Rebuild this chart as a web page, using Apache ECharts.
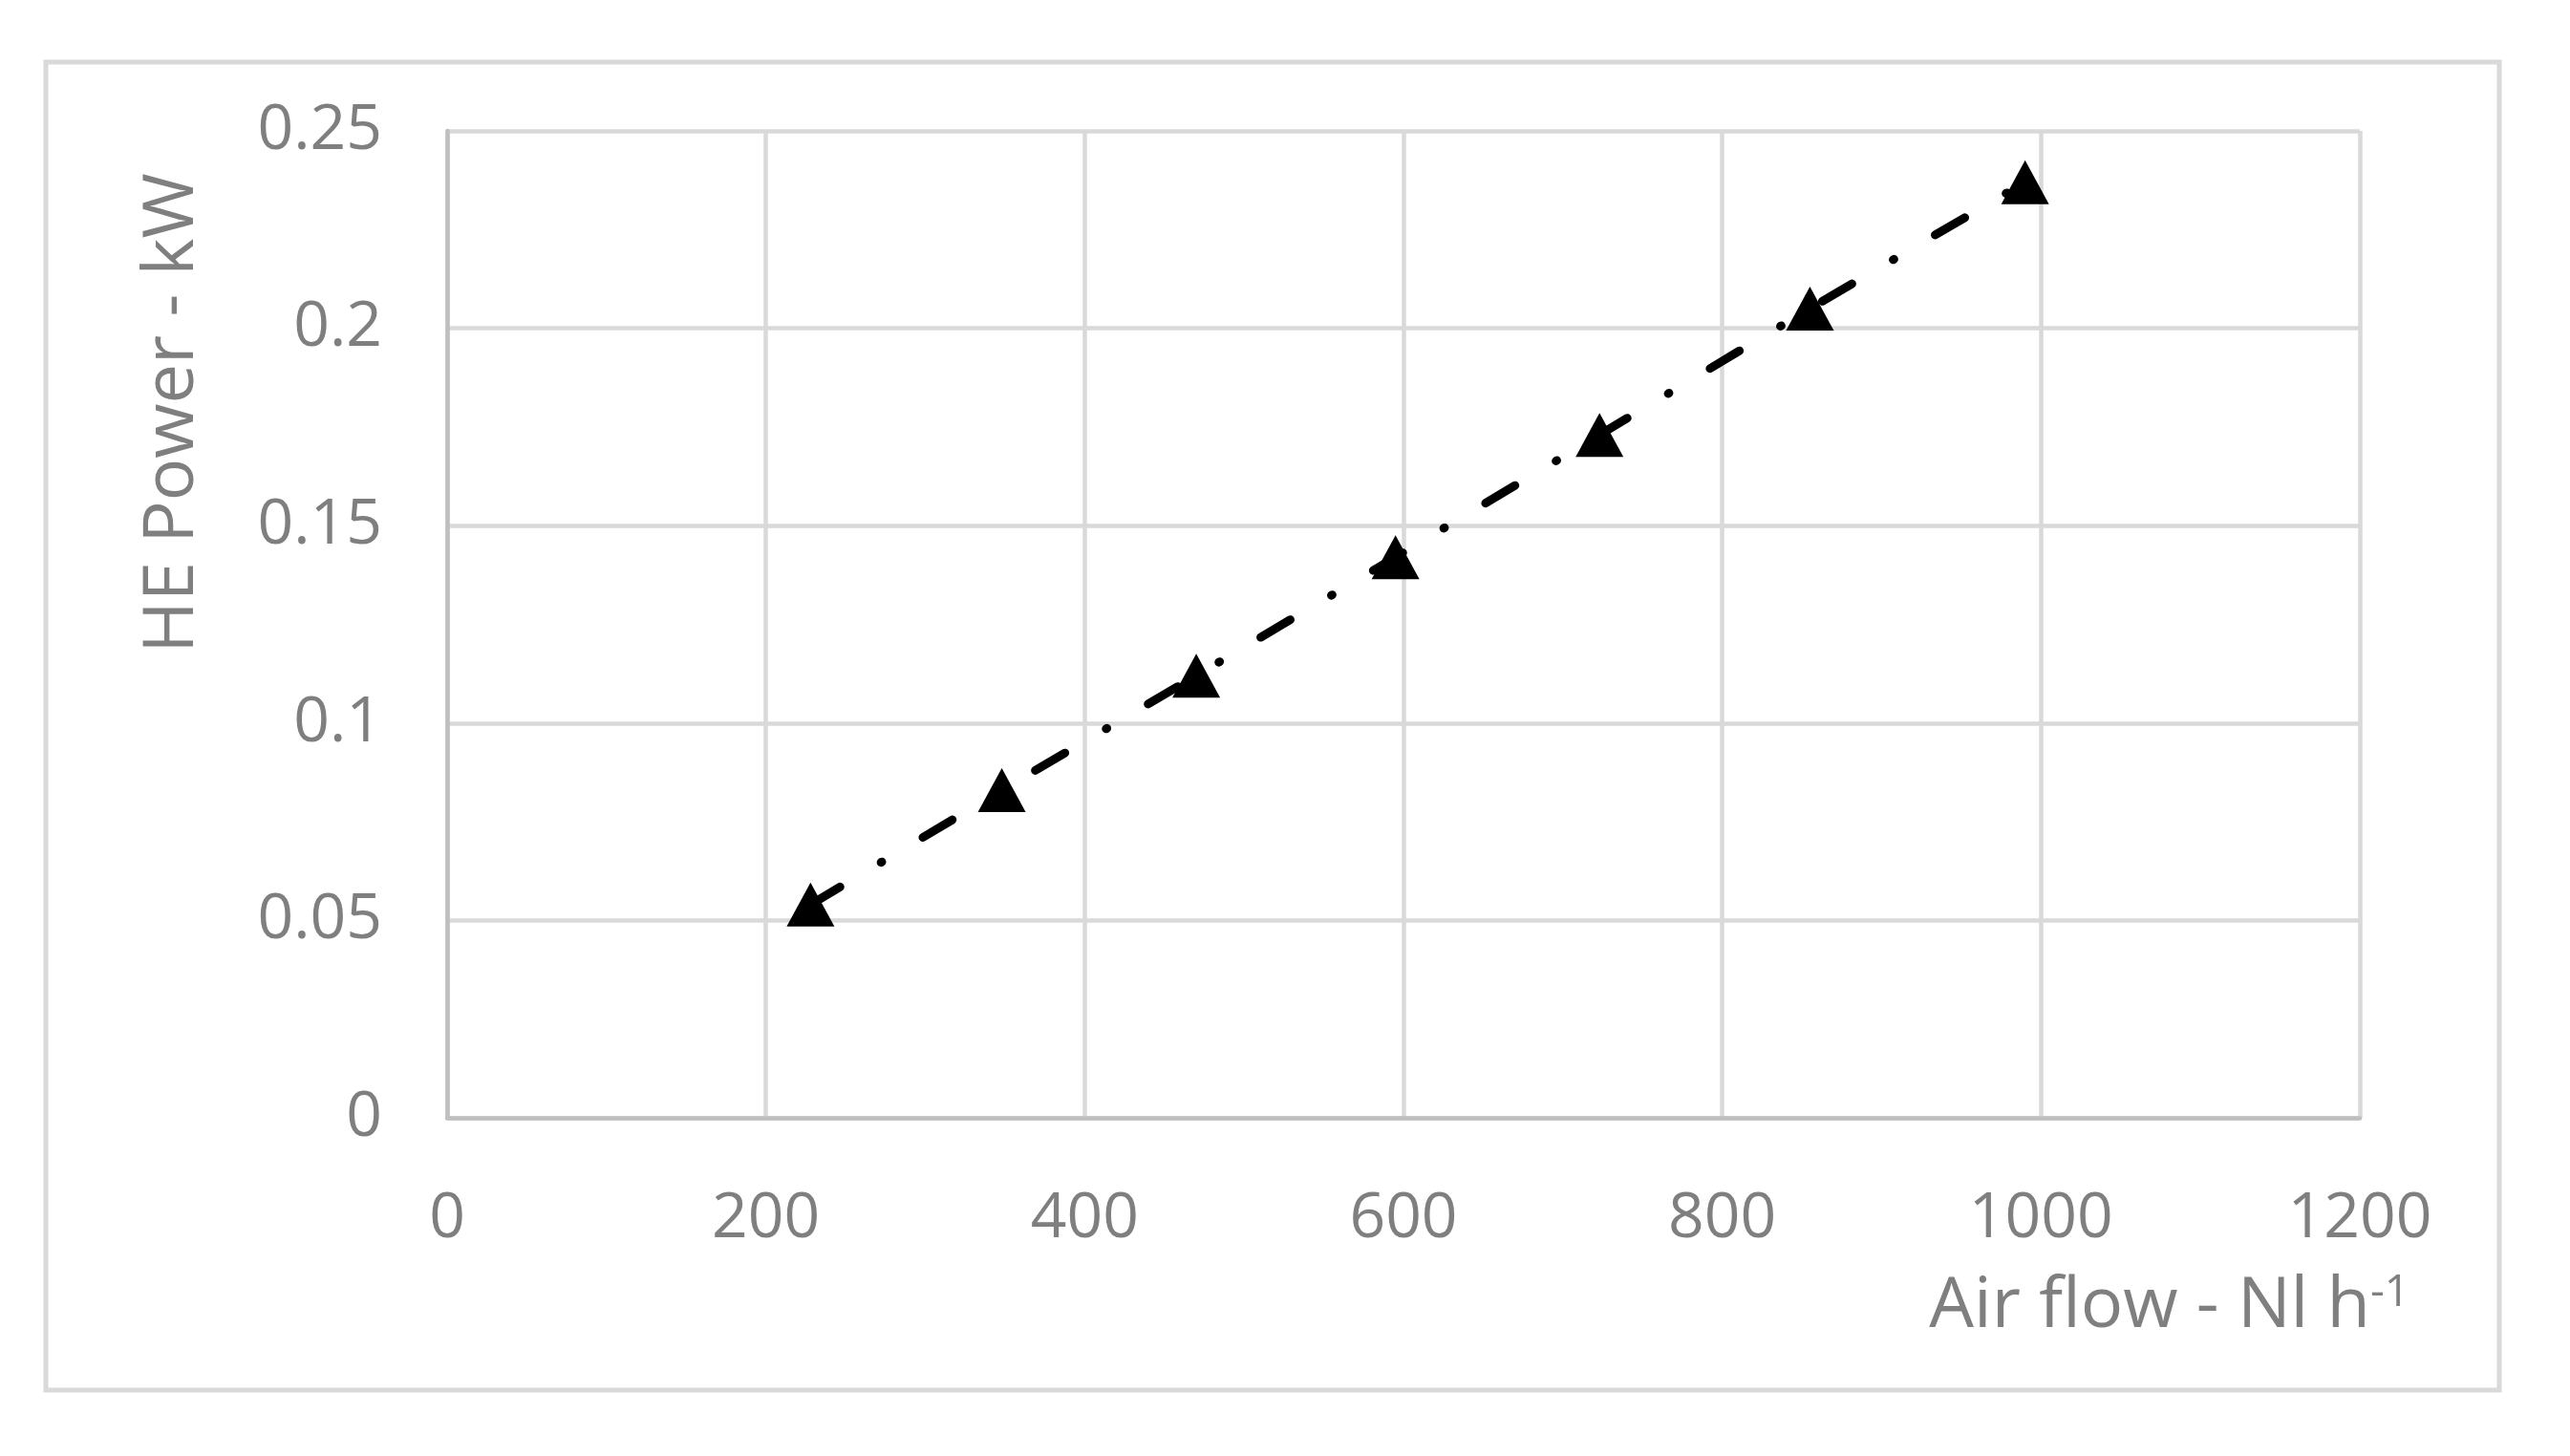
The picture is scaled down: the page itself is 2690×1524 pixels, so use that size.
<!DOCTYPE html>
<html>
<head>
<meta charset="utf-8">
<script src="https://cdn.jsdelivr.net/npm/echarts@6/dist/echarts.min.js"></script>
<style>
html,body{margin:0;padding:0;background:#fff;}
#c{width:2690px;height:1524px;}
</style>
</head>
<body>
<div id="c"></div>
<script>
var airFlow = [228, 348, 470, 595, 723, 855, 990];
var hePower = [0.054, 0.083, 0.112, 0.142, 0.173, 0.205, 0.237];
var xTicks = [0, 200, 400, 600, 800, 1000, 1200];
var yTicks = [0, 0.05, 0.1, 0.15, 0.2, 0.25];
var xTitle = 'Air flow - Nl h';
var xTitleSup = '-1';
var yTitle = 'HE Power - kW';

var points = airFlow.map(function (x, i) { return [x, hePower[i]]; });
var fontFam = '"Open Sans", "Noto Sans", sans-serif';
var labelColor = '#7f7f7f';

var chart = echarts.init(document.getElementById('c'), null, {renderer: 'canvas'});
chart.setOption({
  animation: false,
  backgroundColor: '#ffffff',
  graphic: [{
    type: 'rect',
    shape: {x: 48, y: 65, width: 2568, height: 1390},
    style: {fill: 'none', stroke: '#d9d9d9', lineWidth: 5},
    silent: true,
    z: -10
  }],
  grid: {left: 468, right: 220, top: 137, bottom: 354, containLabel: false},
  xAxis: {
    type: 'value',
    min: xTicks[0],
    max: xTicks[xTicks.length - 1],
    interval: xTicks[1] - xTicks[0],
    name: '{a|' + xTitle + '}{s|' + xTitleSup + '}',
    nameLocation: 'end',
    nameGap: 52,
    nameTextStyle: {
      align: 'right',
      verticalAlign: 'top',
      padding: [161, 0, 0, 0],
      rich: {
        a: {fontSize: 74, color: labelColor, fontFamily: fontFam, verticalAlign: 'bottom'},
        s: {fontSize: 46, color: labelColor, fontFamily: fontFam, verticalAlign: 'top'}
      }
    },
    axisLine: {show: true, onZero: false, lineStyle: {color: '#bfbfbf', width: 4.5}},
    axisTick: {show: false},
    splitLine: {show: true, lineStyle: {color: '#d9d9d9', width: 4.5}},
    axisLabel: {
      fontSize: 66, color: labelColor, fontFamily: fontFam, margin: 73,
      formatter: function (v) { return String(v); }
    }
  },
  yAxis: {
    type: 'value',
    min: yTicks[0],
    max: yTicks[yTicks.length - 1],
    interval: 0.05,
    name: yTitle,
    nameLocation: 'middle',
    nameGap: 250,
    nameTextStyle: {
      fontSize: 74, color: labelColor, fontFamily: fontFam,
      padding: [0, 0, 0, 442]
    },
    axisLine: {show: true, lineStyle: {color: '#bfbfbf', width: 4.5}},
    axisTick: {show: false},
    splitLine: {show: true, lineStyle: {color: '#d9d9d9', width: 4.5}},
    axisLabel: {fontSize: 66, color: labelColor, fontFamily: fontFam, margin: 68}
  },
  series: [{
    type: 'line',
    data: points,
    symbol: 'triangle',
    symbolSize: [50, 46],
    itemStyle: {color: '#000000'},
    lineStyle: {color: '#000000', width: 9, type: [36, 50, 1, 50], cap: 'round'},
    z: 3
  }]
});
</script>
</body>
</html>
